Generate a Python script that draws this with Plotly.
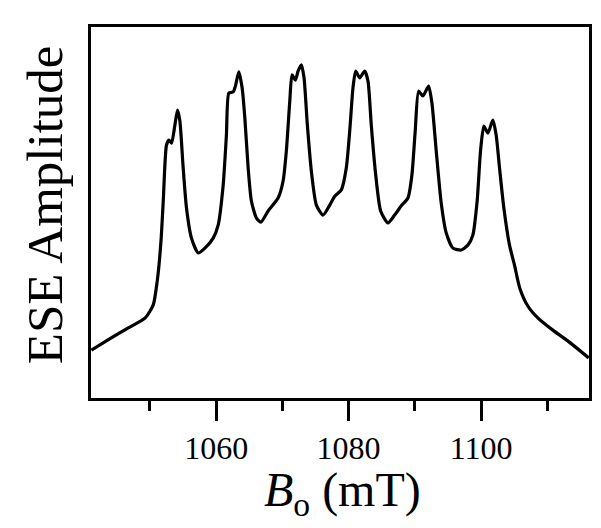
import plotly.graph_objects as go

# Magnetic field (mT)
field_mT = [1041.15, 1044.16, 1046.73, 1049.29, 1050.50, 1051.10, 1051.40, 1051.70, 1052.01,
            1052.50, 1052.87, 1053.26, 1053.77, 1054.16, 1054.52, 1055.02, 1055.52, 1056.27,
            1057.29, 1058.30, 1059.55, 1060.30, 1061.06, 1061.55, 1061.92, 1062.56, 1062.91,
            1063.42, 1063.92, 1064.33, 1064.83, 1065.32, 1066.08, 1066.74, 1067.84, 1069.35,
            1070.11, 1070.60, 1071.12, 1071.46, 1071.96, 1072.37, 1072.87, 1073.27, 1073.77,
            1074.37, 1075.13, 1076.14, 1077.15, 1077.90, 1078.90, 1079.65, 1080.17, 1080.66,
            1081.07, 1081.67, 1082.43, 1082.93, 1083.42, 1084.03, 1084.84, 1085.94, 1086.95,
            1087.95, 1088.96, 1089.56, 1090.06, 1090.57, 1091.22, 1092.08, 1092.58, 1093.23,
            1093.98, 1094.74, 1095.75, 1097.00, 1098.01, 1098.76, 1099.41, 1099.92, 1100.42,
            1101.03, 1101.78, 1102.28, 1102.79, 1103.44, 1104.30, 1105.05, 1105.85, 1107.06,
            1108.57, 1110.83, 1113.09, 1116.26]

# ESE amplitude (arb. units)
amplitude = [0.129, 0.162, 0.189, 0.216, 0.251, 0.315, 0.364, 0.431, 0.531,
             0.682, 0.695, 0.687, 0.736, 0.776, 0.747, 0.620, 0.512, 0.431,
             0.391, 0.404, 0.431, 0.466, 0.574, 0.709, 0.822, 0.825, 0.841,
             0.879, 0.836, 0.755, 0.620, 0.531, 0.485, 0.474, 0.504, 0.539,
             0.585, 0.666, 0.801, 0.871, 0.857, 0.881, 0.898, 0.863, 0.736,
             0.612, 0.520, 0.493, 0.520, 0.544, 0.561, 0.620, 0.720, 0.836,
             0.881, 0.863, 0.881, 0.854, 0.736, 0.612, 0.504, 0.472, 0.493,
             0.518, 0.539, 0.601, 0.720, 0.827, 0.814, 0.841, 0.795, 0.666,
             0.526, 0.445, 0.404, 0.399, 0.412, 0.439, 0.531, 0.666, 0.733,
             0.714, 0.749, 0.709, 0.620, 0.512, 0.412, 0.358, 0.296, 0.248,
             0.216, 0.183, 0.154, 0.108]

x_range = [1041.1, 1116.3]
y_range = [0, 1]
major_ticks = [1060, 1080, 1100]
tick_labels = ["1060", "1080", "1100"]

FONT = "Liberation Serif, Times New Roman, serif"

fig = go.Figure()
fig.add_trace(go.Scatter(x=field_mT, y=amplitude, mode="lines",
                         line=dict(color="black", width=3.2, shape="spline", smoothing=0.6),
                         hoverinfo="skip", showlegend=False))

fig.update_layout(
    width=601, height=528,
    margin=dict(l=83, r=20, t=19, b=138),
    paper_bgcolor="white", plot_bgcolor="white",
    font=dict(family=FONT, color="black"),
    xaxis=dict(range=x_range, showgrid=False, zeroline=False,
               showline=True, mirror=True, linecolor="black", linewidth=3,
               ticks="outside", ticklen=20, tickwidth=3, tickcolor="black",
               tickvals=major_ticks, ticktext=tick_labels,
               tickfont=dict(family=FONT, size=32, color="black"),
               minor=dict(ticks="outside", ticklen=10, tickwidth=3, tickcolor="black",
                          dtick=10, tick0=1050, showgrid=False)),
    yaxis=dict(range=y_range, showgrid=False, zeroline=False,
               showline=True, mirror=True, linecolor="black", linewidth=3,
               ticks="", showticklabels=False),
    annotations=[
        dict(text="ESE Amplitude", xref="paper", yref="paper",
             x=-0.092, y=0.52, xanchor="center", yanchor="middle",
             textangle=-90, showarrow=False,
             font=dict(family=FONT, size=51, color="black")),
        dict(text="<i>B</i><sub>o</sub> (mT)", xref="paper", yref="paper",
             x=0.505, y=-0.255, xanchor="center", yanchor="middle",
             showarrow=False,
             font=dict(family=FONT, size=48, color="black")),
    ],
)

fig.write_html("out.html")
